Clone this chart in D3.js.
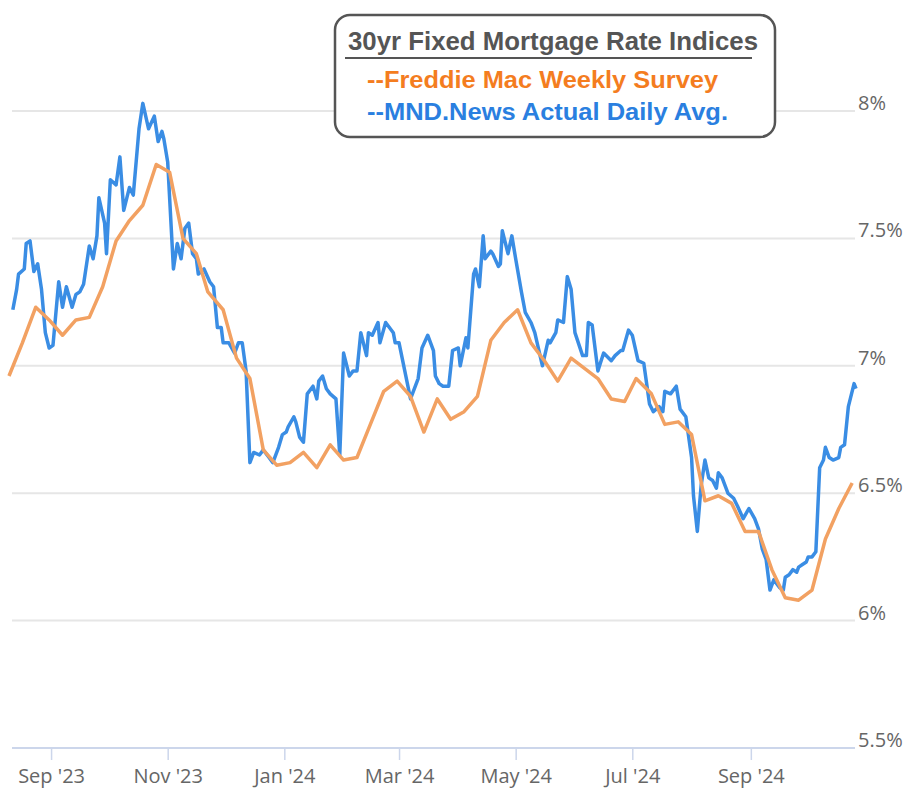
<!DOCTYPE html>
<html>
<head>
<meta charset="utf-8">
<script src="https://cdn.jsdelivr.net/npm/d3@7"></script>
<style>
  body { margin: 0; background: #fff; }
</style>
</head>
<body>
<div id="chart"></div>
<script>
// Freddie Mac weekly survey
const freddieDates = [
  '2023-08-10', '2023-08-17', '2023-08-24', '2023-08-31', '2023-09-07', '2023-09-14', '2023-09-21', '2023-09-28',
  '2023-10-05', '2023-10-12', '2023-10-19', '2023-10-26', '2023-11-02', '2023-11-09', '2023-11-16', '2023-11-22',
  '2023-11-30', '2023-12-07', '2023-12-14', '2023-12-21', '2023-12-28', '2024-01-04', '2024-01-11', '2024-01-18',
  '2024-01-25', '2024-02-01', '2024-02-08', '2024-02-15', '2024-02-22', '2024-02-29', '2024-03-07', '2024-03-14',
  '2024-03-21', '2024-03-28', '2024-04-04', '2024-04-11', '2024-04-18', '2024-04-25', '2024-05-02', '2024-05-09',
  '2024-05-16', '2024-05-23', '2024-05-30', '2024-06-06', '2024-06-13', '2024-06-20', '2024-06-27', '2024-07-03',
  '2024-07-11', '2024-07-18', '2024-07-25', '2024-08-01', '2024-08-08', '2024-08-15', '2024-08-22', '2024-08-29',
  '2024-09-05', '2024-09-12', '2024-09-19', '2024-09-26', '2024-10-03', '2024-10-10', '2024-10-17', '2024-10-24',
];
const freddieRates = [
  6.96, 7.09, 7.23, 7.18, 7.12, 7.18, 7.19, 7.31,
  7.49, 7.57, 7.63, 7.79, 7.76, 7.50, 7.44, 7.29,
  7.22, 7.03, 6.95, 6.67, 6.61, 6.62, 6.66, 6.60,
  6.69, 6.63, 6.64, 6.77, 6.90, 6.94, 6.88, 6.74,
  6.87, 6.79, 6.82, 6.88, 7.10, 7.17, 7.22, 7.09,
  7.02, 6.94, 7.03, 6.99, 6.95, 6.87, 6.86, 6.95,
  6.89, 6.77, 6.78, 6.73, 6.47, 6.49, 6.46, 6.35,
  6.35, 6.20, 6.09, 6.08, 6.12, 6.32, 6.44, 6.54,
];

// MND daily index
const mndDates = [
  '2023-08-12', '2023-08-14', '2023-08-15', '2023-08-18', '2023-08-19', '2023-08-21', '2023-08-23', '2023-08-25',
  '2023-08-27', '2023-08-29', '2023-08-31', '2023-09-02', '2023-09-05', '2023-09-07', '2023-09-09', '2023-09-12',
  '2023-09-14', '2023-09-16', '2023-09-18', '2023-09-21', '2023-09-23', '2023-09-25', '2023-09-26', '2023-09-29',
  '2023-09-30', '2023-10-02', '2023-10-05', '2023-10-07', '2023-10-09', '2023-10-12', '2023-10-14', '2023-10-17',
  '2023-10-19', '2023-10-22', '2023-10-25', '2023-10-27', '2023-10-29', '2023-10-30', '2023-11-01', '2023-11-04',
  '2023-11-06', '2023-11-08', '2023-11-10', '2023-11-12', '2023-11-14', '2023-11-16', '2023-11-17', '2023-11-20',
  '2023-11-23', '2023-11-25', '2023-11-27', '2023-11-29', '2023-11-30', '2023-12-03', '2023-12-06', '2023-12-08',
  '2023-12-10', '2023-12-12', '2023-12-14', '2023-12-16', '2023-12-19', '2023-12-21', '2023-12-24', '2023-12-26',
  '2023-12-29', '2023-12-31', '2024-01-02', '2024-01-03', '2024-01-06', '2024-01-07', '2024-01-09', '2024-01-11',
  '2024-01-13', '2024-01-16', '2024-01-18', '2024-01-19', '2024-01-21', '2024-01-23', '2024-01-25', '2024-01-28',
  '2024-01-30', '2024-02-01', '2024-02-04', '2024-02-06', '2024-02-08', '2024-02-10', '2024-02-13', '2024-02-14',
  '2024-02-16', '2024-02-19', '2024-02-20', '2024-02-23', '2024-02-27', '2024-02-28', '2024-03-01', '2024-03-07',
  '2024-03-11', '2024-03-13', '2024-03-16', '2024-03-19', '2024-03-20', '2024-03-22', '2024-03-24', '2024-03-27',
  '2024-03-29', '2024-04-01', '2024-04-02', '2024-04-05', '2024-04-06', '2024-04-09', '2024-04-10', '2024-04-12',
  '2024-04-14', '2024-04-15', '2024-04-18', '2024-04-19', '2024-04-22', '2024-04-23', '2024-04-24', '2024-04-27',
  '2024-04-29', '2024-05-01', '2024-05-04', '2024-05-06', '2024-05-09', '2024-05-11', '2024-05-15', '2024-05-18',
  '2024-05-19', '2024-05-22', '2024-05-23', '2024-05-26', '2024-05-28', '2024-05-30', '2024-06-01', '2024-06-05',
  '2024-06-07', '2024-06-08', '2024-06-10', '2024-06-13', '2024-06-16', '2024-06-20', '2024-06-22', '2024-06-25',
  '2024-06-26', '2024-06-29', '2024-07-01', '2024-07-04', '2024-07-07', '2024-07-10', '2024-07-12', '2024-07-15',
  '2024-07-17', '2024-07-18', '2024-07-21', '2024-07-24', '2024-07-26', '2024-07-29', '2024-08-01', '2024-08-02',
  '2024-08-04', '2024-08-06', '2024-08-08', '2024-08-10', '2024-08-12', '2024-08-14', '2024-08-15', '2024-08-17',
  '2024-08-20', '2024-08-23', '2024-08-25', '2024-08-28', '2024-08-31', '2024-09-03', '2024-09-05', '2024-09-07',
  '2024-09-09', '2024-09-11', '2024-09-13', '2024-09-16', '2024-09-18', '2024-09-19', '2024-09-21', '2024-09-23',
  '2024-09-25', '2024-09-26', '2024-09-28', '2024-09-30', '2024-10-01', '2024-10-03', '2024-10-05', '2024-10-07',
  '2024-10-09', '2024-10-10', '2024-10-12', '2024-10-14', '2024-10-17', '2024-10-18', '2024-10-20', '2024-10-22',
  '2024-10-25', '2024-10-26',
];
const mndRates = [
  7.22, 7.30, 7.36, 7.38, 7.48, 7.49, 7.37, 7.40,
  7.30, 7.13, 7.07, 7.08, 7.33, 7.23, 7.31, 7.23,
  7.28, 7.29, 7.32, 7.47, 7.42, 7.51, 7.66, 7.56,
  7.44, 7.73, 7.71, 7.82, 7.61, 7.70, 7.67, 7.93,
  8.03, 7.93, 7.98, 7.88, 7.92, 7.89, 7.80, 7.38,
  7.48, 7.42, 7.54, 7.56, 7.44, 7.42, 7.36, 7.38,
  7.33, 7.31, 7.15, 7.15, 7.09, 7.09, 7.05, 7.09,
  7.09, 6.98, 6.62, 6.66, 6.65, 6.67, 6.64, 6.62,
  6.68, 6.73, 6.74, 6.76, 6.80, 6.78, 6.72, 6.70,
  6.89, 6.92, 6.87, 6.94, 6.96, 6.91, 6.89, 6.87,
  6.65, 7.05, 6.96, 6.98, 6.98, 7.13, 7.04, 7.13,
  7.12, 7.17, 7.09, 7.17, 7.13, 7.09, 7.09, 6.87,
  6.95, 7.07, 7.12, 7.06, 6.96, 6.93, 6.92, 6.92,
  7.06, 7.07, 7.00, 7.11, 7.07, 7.36, 7.38, 7.31,
  7.51, 7.42, 7.45, 7.44, 7.39, 7.40, 7.53, 7.44,
  7.51, 7.42, 7.29, 7.21, 7.17, 7.13, 7.00, 7.10,
  7.09, 7.13, 7.18, 7.17, 7.35, 7.30, 7.13, 7.04,
  7.04, 7.17, 7.16, 6.98, 7.05, 7.02, 7.04, 7.06,
  7.06, 7.14, 7.12, 7.02, 7.01, 6.85, 6.82, 6.84,
  6.82, 6.90, 6.89, 6.92, 6.83, 6.80, 6.64, 6.49,
  6.35, 6.53, 6.63, 6.56, 6.55, 6.52, 6.58, 6.56,
  6.50, 6.48, 6.45, 6.40, 6.44, 6.40, 6.36, 6.28,
  6.24, 6.12, 6.16, 6.13, 6.12, 6.17, 6.18, 6.20,
  6.19, 6.21, 6.22, 6.23, 6.25, 6.25, 6.27, 6.60,
  6.63, 6.68, 6.64, 6.63, 6.64, 6.68, 6.69, 6.84,
  6.93, 6.91,
];

const yTicks = [5.5, 6, 6.5, 7, 7.5, 8];
const xTicks = ['2023-09-01', '2023-11-01', '2024-01-01', '2024-03-01', '2024-05-01', '2024-07-01', '2024-09-01'];
const legendTitle = '30yr Fixed Mortgage Rate Indices';
const legendItems = ['--Freddie Mac Weekly Survey', '--MND.News Actual Daily Avg.'];

const parse = d3.timeParse('%Y-%m-%d');
const freddie = freddieDates.map((d, i) => ({ date: parse(d), rate: freddieRates[i] }));
const mnd = mndDates.map((d, i) => ({ date: parse(d), rate: mndRates[i] }));

const size = { width: 906, height: 791 };
const plot = { left: 12, right: 855, top: 111, bottom: 748 };

const svg = d3
  .select('#chart')
  .append('svg')
  .attr('width', size.width)
  .attr('height', size.height)
  .style('font-family', "'Open Sans', sans-serif");

const x = d3
  .scaleTime()
  .domain(d3.extent([...freddie, ...mnd], (d) => d.date))
  .range([9, 856]);

const y = d3
  .scaleLinear()
  .domain(d3.extent(yTicks))
  .range([plot.bottom, plot.top]);

// gridlines + right side labels
yTicks.forEach((v, i) => {
  svg
    .append('line')
    .attr('x1', plot.left)
    .attr('x2', plot.right)
    .attr('y1', y(v))
    .attr('y2', y(v))
    .attr('stroke', i === 0 ? '#ccd6eb' : '#e6e6e6')
    .attr('stroke-width', 2);

  svg
    .append('text')
    .text(`${v}%`)
    .attr('x', 858)
    .attr('y', y(v) - 1)
    .attr('fill', '#666')
    .style('font-size', '20px');
});

const xAxis = svg
  .append('g')
  .attr('transform', `translate(0, ${plot.bottom})`)
  .call(
    d3
      .axisBottom(x)
      .tickValues(xTicks.map(parse))
      .tickSize(12)
      .tickPadding(9)
      .tickFormat(d3.timeFormat("%b '%y")),
  );
xAxis.select('.domain').remove();
xAxis.selectAll('line').attr('stroke', '#ccd6eb').attr('stroke-width', 1.5);
xAxis
  .selectAll('text')
  .attr('fill', '#666')
  .style('font-size', '20px')
  .style('font-family', "'Open Sans', sans-serif");

const line = d3
  .line()
  .x((d) => x(d.date))
  .y((d) => y(d.rate));

svg
  .append('path')
  .datum(mnd)
  .attr('d', line)
  .attr('fill', 'none')
  .attr('stroke', '#3a8de4')
  .attr('stroke-width', 3.5)
  .attr('stroke-linejoin', 'round');

svg
  .append('path')
  .datum(freddie)
  .attr('d', line)
  .attr('fill', 'none')
  .attr('stroke', '#f2a162')
  .attr('stroke-width', 3.5)
  .attr('stroke-linejoin', 'round');

// legend box
const legend = svg.append('g').style('font-family', "'Liberation Sans', Arial, sans-serif");

legend
  .append('rect')
  .attr('x', 335)
  .attr('y', 15)
  .attr('width', 440)
  .attr('height', 122)
  .attr('rx', 15)
  .attr('fill', '#fff')
  .attr('stroke', '#555')
  .attr('stroke-width', 2.5);

legend
  .append('text')
  .text(legendTitle)
  .attr('x', 348)
  .attr('y', 50)
  .attr('textLength', 410)
  .attr('lengthAdjust', 'spacingAndGlyphs')
  .attr('fill', '#555')
  .attr('font-weight', 'bold')
  .style('font-size', '26px');

legend
  .append('line')
  .attr('x1', 345)
  .attr('x2', 752)
  .attr('y1', 58)
  .attr('y2', 58)
  .attr('stroke', '#555')
  .attr('stroke-width', 2);

const itemColors = ['#f47d1f', '#2a7fe0'];
const itemWidths = [351, 361];
legendItems.forEach((t, i) => {
  legend
    .append('text')
    .text(t)
    .attr('x', 367)
    .attr('y', 88 + i * 32)
    .attr('textLength', itemWidths[i])
    .attr('lengthAdjust', 'spacingAndGlyphs')
    .attr('fill', itemColors[i])
    .attr('font-weight', 'bold')
    .style('font-size', '24px');
});
</script>
</body>
</html>
